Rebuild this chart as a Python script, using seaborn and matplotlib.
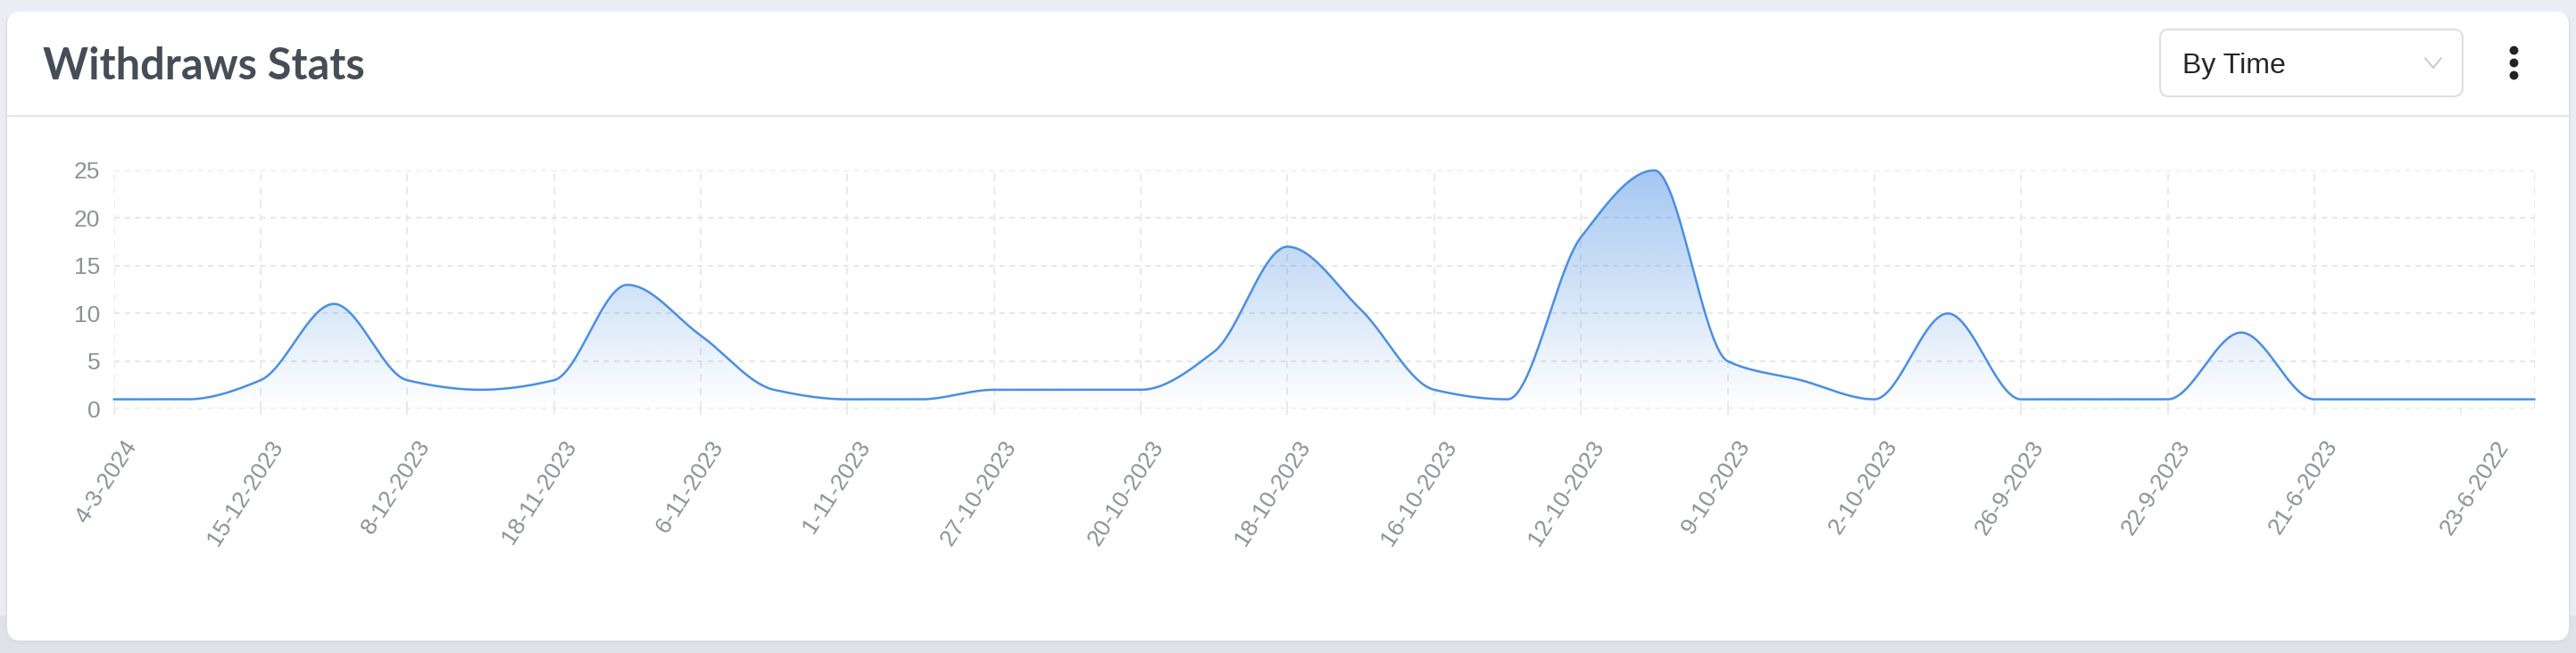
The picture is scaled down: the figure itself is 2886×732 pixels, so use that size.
import numpy as np
import pandas as pd
import seaborn as sns
import matplotlib.pyplot as plt
from matplotlib.patches import FancyBboxPatch, Rectangle
from matplotlib.transforms import ScaledTranslation

# values, one per point (34 points, every other one labelled)
withdraws = [1, 1, 3, 11, 3, 2, 3, 13, 7.7, 2, 1, 1, 2, 2, 2, 6, 17, 10.4,
             2, 1, 18, 25, 5, 3, 1, 10, 1, 1, 1, 8, 1, 1, 1, 1]
tick_labels = ['4-3-2024', '15-12-2023', '8-12-2023', '18-11-2023', '6-11-2023',
               '1-11-2023', '27-10-2023', '20-10-2023', '18-10-2023', '16-10-2023',
               '12-10-2023', '9-10-2023', '2-10-2023', '26-9-2023', '22-9-2023',
               '21-6-2023', '23-6-2022']
y_ticks = [0, 5, 10, 15, 20, 25]

title = 'Withdraws Stats'
dropdown = 'By Time'

blue = '#4a8fe3'
grid_c = '#e6e6e6'
label_c = '#8c9198'


def monotone(x, y, xs):
    # monotone cubic (pchip-like) curve, like the "smooth" line of the widget
    x = np.asarray(x, float)
    y = np.asarray(y, float)
    h = np.diff(x)
    d = np.diff(y) / h
    m = np.zeros_like(y)
    for k in range(1, len(y) - 1):
        if d[k - 1] * d[k] > 0:
            w1 = 2 * h[k] + h[k - 1]
            w2 = h[k] + 2 * h[k - 1]
            m[k] = (w1 + w2) / (w1 / d[k - 1] + w2 / d[k])
    m[0] = d[0]
    m[-1] = d[-1]
    idx = np.clip(np.searchsorted(x, xs) - 1, 0, len(x) - 2)
    t = (xs - x[idx]) / h[idx]
    h00 = 2 * t**3 - 3 * t**2 + 1
    h10 = t**3 - 2 * t**2 + t
    h01 = -2 * t**3 + 3 * t**2
    h11 = t**3 - t**2
    return h00 * y[idx] + h10 * h[idx] * m[idx] + h01 * y[idx + 1] + h11 * h[idx] * m[idx + 1]


sns.set_theme(style='white')
plt.rcParams['font.family'] = ['Liberation Sans', 'DejaVu Sans']

W, H = 2886, 732
fig = plt.figure(figsize=(W / 100, H / 100), dpi=100)
fig.patch.set_facecolor('#ecedf2')

# card / header drawn in pixel coordinates
bg = fig.add_axes([0, 0, 1, 1], zorder=0)
bg.set_xlim(0, W)
bg.set_ylim(H, 0)
bg.axis('off')
bg.add_patch(Rectangle((0, 690), W, 42, color='#e1e2e7', lw=0))
bg.add_patch(FancyBboxPatch((6, 14), W - 12, 708, boxstyle='round,pad=0,rounding_size=16',
                            fc='#dcdde3', ec='none', alpha=0.7))
bg.add_patch(FancyBboxPatch((8, 13), 2870, 705, boxstyle='round,pad=0,rounding_size=15',
                            fc='white', ec='none'))
bg.plot([8, 2878], [130, 130], color='#e6e6e8', lw=1.5)
bg.text(48, 89, title, fontsize=35, fontweight='bold', color='#454d57',
        family=['Lato', 'DejaVu Sans'], va='baseline', ha='left')
bg.add_patch(FancyBboxPatch((2420, 33), 339, 75, boxstyle='round,pad=0,rounding_size=10',
                            fc='white', ec='#dedfe2', lw=1.5))
bg.text(2445, 82, dropdown, fontsize=23, color='#262626', va='baseline', ha='left')
bg.plot([2717, 2726, 2735], [65, 76, 65], color='#c4c6ca', lw=1.3)
bg.scatter([2816, 2816, 2816], [56, 70, 84], s=50, color='#222222', lw=0)

# chart area
ax = fig.add_axes([127.5 / W, 1 - 458.3 / H, (2839.6 - 127.5) / W, (458.3 - 191) / H], zorder=2)
ax.patch.set_alpha(0)

df = pd.DataFrame({'idx': np.arange(len(withdraws)), 'value': withdraws})
xs = np.linspace(0, len(withdraws) - 1, 2000)
ys = monotone(df['idx'], df['value'], xs)
curve = pd.DataFrame({'x': xs, 'y': ys})

poly = ax.fill_between(curve['x'], 0, curve['y'], color='none', lw=0)
grad = np.linspace(0.5, 0.0, 256).reshape(-1, 1)
rgba = np.zeros((256, 1, 4))
rgba[..., :3] = plt.matplotlib.colors.to_rgb(blue)
rgba[..., 3] = grad
img = ax.imshow(rgba, extent=[0, len(withdraws) - 1, 0, 25], aspect='auto', zorder=1,
                interpolation='bicubic')
img.set_clip_path(poly.get_paths()[0], transform=ax.transData)

sns.lineplot(data=curve, x='x', y='y', color=blue, lw=1.8, ax=ax, zorder=3, clip_on=False)

ax.set_xlim(0, len(withdraws) - 1)
ax.set_ylim(0, 25)
ax.set_xlabel('')
ax.set_ylabel('')
for s in ax.spines.values():
    s.set_visible(False)

tick_pos = list(range(0, len(withdraws), 2))
ax.set_xticks(tick_pos)
ax.set_xticklabels(tick_labels, rotation=57, ha='right', va='center', rotation_mode='anchor',
                   fontsize=19, color=label_c)
ax.set_yticks(y_ticks)
ax.set_yticklabels([str(v) for v in y_ticks], fontsize=19, color=label_c)
ax.tick_params(axis='y', length=0, pad=11)
ax.tick_params(axis='x', length=5, color=grid_c, width=1.2, pad=22, bottom=True)

off = ScaledTranslation(0.2, 0, fig.dpi_scale_trans)
for i, lab in enumerate(ax.get_xticklabels()):
    extra = 0.28 if i == len(tick_labels) - 1 else 0
    lab.set_transform(lab.get_transform() + off + ScaledTranslation(extra, 0, fig.dpi_scale_trans))

ax.yaxis.grid(True, color=grid_c, lw=1.4, linestyle=(0, (3, 3)))
ax.xaxis.grid(True, color=grid_c, lw=1.2, linestyle=(0, (5, 4)))
ax.get_xgridlines()[-1].set_visible(False)
ax.axvline(len(withdraws) - 1, color=grid_c, lw=1.2, linestyle=(0, (5, 4)))
ax.set_axisbelow(True)

fig.savefig('out.png', dpi=100, facecolor=fig.get_facecolor())
